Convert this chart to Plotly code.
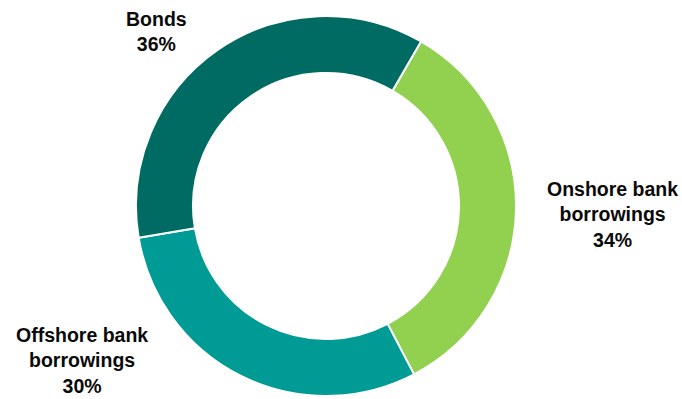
import plotly.graph_objects as go

labels = ["Onshore bank<br>borrowings", "Offshore bank<br>borrowings", "Bonds"]
values = [34, 30, 36]
colors = ["#92D050", "#009B94", "#006B63"]
label_pos = [(0.8974, 0.4612), (0.1202, 0.0977), (0.2302, 0.9198)]

W, H = 682, 399
cx, cy, r = 326, 206, 190

fig = go.Figure()
fig.add_trace(go.Pie(
    labels=labels,
    values=values,
    hole=0.70,
    sort=False,
    direction="clockwise",
    rotation=30,
    marker=dict(colors=colors, line=dict(color="white", width=2)),
    textinfo="none",
    hoverinfo="label+percent",
    showlegend=False,
    domain=dict(x=[(cx - r) / W, (cx + r) / W],
                y=[(H - cy - r) / H, (H - cy + r) / H]),
))

for lab, val, (px, py) in zip(labels, values, label_pos):
    fig.add_annotation(
        x=px, y=py, xref="paper", yref="paper",
        text=f"<b>{lab}<br>{val}%</b>",
        showarrow=False, xanchor="center", yanchor="middle",
        align="center",
        font=dict(family="Liberation Sans, Arial, sans-serif", size=19.5, color="#0a0a0a"),
    )

fig.update_layout(
    width=W, height=H,
    margin=dict(l=0, r=0, t=0, b=0),
    paper_bgcolor="white",
    plot_bgcolor="white",
)

fig.write_html("out.html")
